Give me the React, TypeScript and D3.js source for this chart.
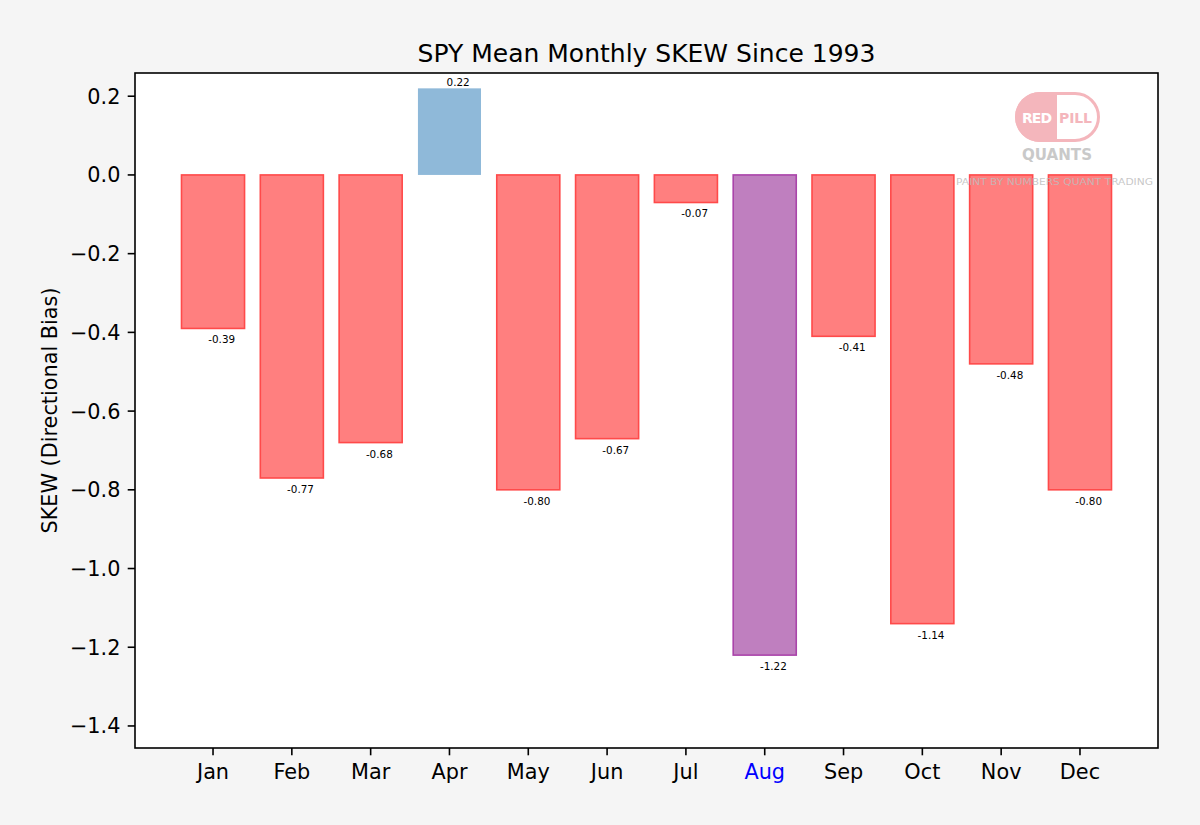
import * as d3 from 'd3';

// mean SKEW per calendar month
const months = ['Jan', 'Feb', 'Mar', 'Apr', 'May', 'Jun', 'Jul', 'Aug', 'Sep', 'Oct', 'Nov', 'Dec'];
const skew = [-0.39, -0.77, -0.68, 0.22, -0.80, -0.67, -0.07, -1.22, -0.41, -1.14, -0.48, -0.80];
const yTicks = [0.2, 0.0, -0.2, -0.4, -0.6, -0.8, -1.0, -1.2, -1.4];
const highlightMonth = 'Aug';

const W = 1200;
const H = 825;
const margin = { top: 73, right: 42, bottom: 77, left: 135 };
const innerW = W - margin.left - margin.right;
const innerH = H - margin.top - margin.bottom;
const font = '"DejaVu Sans", sans-serif';

const x = d3.scaleLinear().domain([-0.99, 11.99]).range([0, innerW]);
const y = d3.scaleLinear().domain([0.259, -1.456]).range([0, innerH]);
const barW = x(0.8) - x(0);

const fmtTick = (v: number) => d3.format('.1f')(v).replace('-', '\u2212');

const barStyle = (m: string, v: number) => {
    if (m === highlightMonth) return { fill: '#bf7fbf', stroke: '#aa44aa' };
    if (v >= 0) return { fill: '#8fb9d9', stroke: 'none' };
    return { fill: '#ff7f7f', stroke: '#ff4a4a' };
};

const Logo = () => {
    const px = 1015, py = 92, pw = 85, ph = 50, r = 25, mid = 1057;
    return (
        <g>
            <defs>
                <clipPath id="leftHalf">
                    <rect x={px - 5} y={py - 5} width={mid - px + 5} height={ph + 10} />
                </clipPath>
            </defs>
            <rect x={px + 1.5} y={py + 1.5} width={pw - 3} height={ph - 3} rx={r - 1.5}
                fill="#fff" stroke="#f4b6bc" strokeWidth={3} />
            <rect x={px} y={py} width={pw} height={ph} rx={r} fill="#f4b6bc" clipPath="url(#leftHalf)" />
            <text x={1022} y={123} fontFamily={font} fontWeight="bold" fontSize={14}
                fill="#fff" textLength={30} lengthAdjust="spacing">RED</text>
            <text x={1059} y={123} fontFamily={font} fontWeight="bold" fontSize={14}
                fill="#f4b6bc" textLength={33} lengthAdjust="spacing">PILL</text>
            <text x={1022} y={160} fontFamily={font} fontWeight="bold" fontSize={15.5}
                fill="#c9c9c9" textLength={70} lengthAdjust="spacingAndGlyphs">QUANTS</text>
        </g>
    );
};

const App = () => {
    return (
        <svg width={W} height={H} style={{ position: 'absolute', left: 0, top: 0, display: 'block' }}>
            <rect width={W} height={H} fill="#f5f5f5" />
            <text x={margin.left + innerW / 2} y={62} textAnchor="middle" fontFamily={font}
                fontSize={25} fill="#000">SPY Mean Monthly SKEW Since 1993</text>
            <text transform={`translate(57,${margin.top + innerH / 2}) rotate(-90)`} textAnchor="middle"
                fontFamily={font} fontSize={20.8} fill="#000">SKEW (Directional Bias)</text>
            <g transform={`translate(${margin.left},${margin.top})`}>
                <rect width={innerW} height={innerH} fill="#fff" />
                {months.map((m, i) => {
                    const v = skew[i];
                    const s = barStyle(m, v);
                    const y0 = y(Math.max(0, v));
                    const h = Math.abs(y(v) - y(0));
                    return (
                        <rect key={m} x={x(i) - barW / 2} y={y0} width={barW} height={h}
                            fill={s.fill} stroke={s.stroke} strokeWidth={1.6} />
                    );
                })}
                {months.map((m, i) => {
                    const v = skew[i];
                    const ly = v >= 0 ? y(v) - 2 : y(v) + 15;
                    return (
                        <text key={m} x={x(i + 0.11)} y={ly} textAnchor="middle" fontFamily={font}
                            fontSize={10.4} fill="#000">{v.toFixed(2)}</text>
                    );
                })}
                <text x={956 - margin.left} y={185 - margin.top} fontFamily={font} fontSize={9.4}
                    fill="#bdbdbd" fillOpacity={0.85} textLength={197} lengthAdjust="spacingAndGlyphs">
                    PAINT BY NUMBERS QUANT TRADING
                </text>
                <rect width={innerW} height={innerH} fill="none" stroke="#000" strokeWidth={1.6} />
                {yTicks.map(t => (
                    <g key={t} transform={`translate(0,${y(t)})`}>
                        <line x1={-7.3} x2={0} stroke="#000" strokeWidth={1.6} />
                        <text x={-14.6} dy="0.36em" textAnchor="end" fontFamily={font}
                            fontSize={20.8} fill="#000">{fmtTick(t)}</text>
                    </g>
                ))}
                {months.map((m, i) => (
                    <g key={m} transform={`translate(${x(i)},${innerH})`}>
                        <line y1={0} y2={7.3} stroke="#000" strokeWidth={1.6} />
                        <text y={30.5} textAnchor="middle" fontFamily={font} fontSize={20.8}
                            fill={m === highlightMonth ? '#0000ff' : '#000'}>{m}</text>
                    </g>
                ))}
            </g>
            <Logo />
        </svg>
    );
};

export default App;
